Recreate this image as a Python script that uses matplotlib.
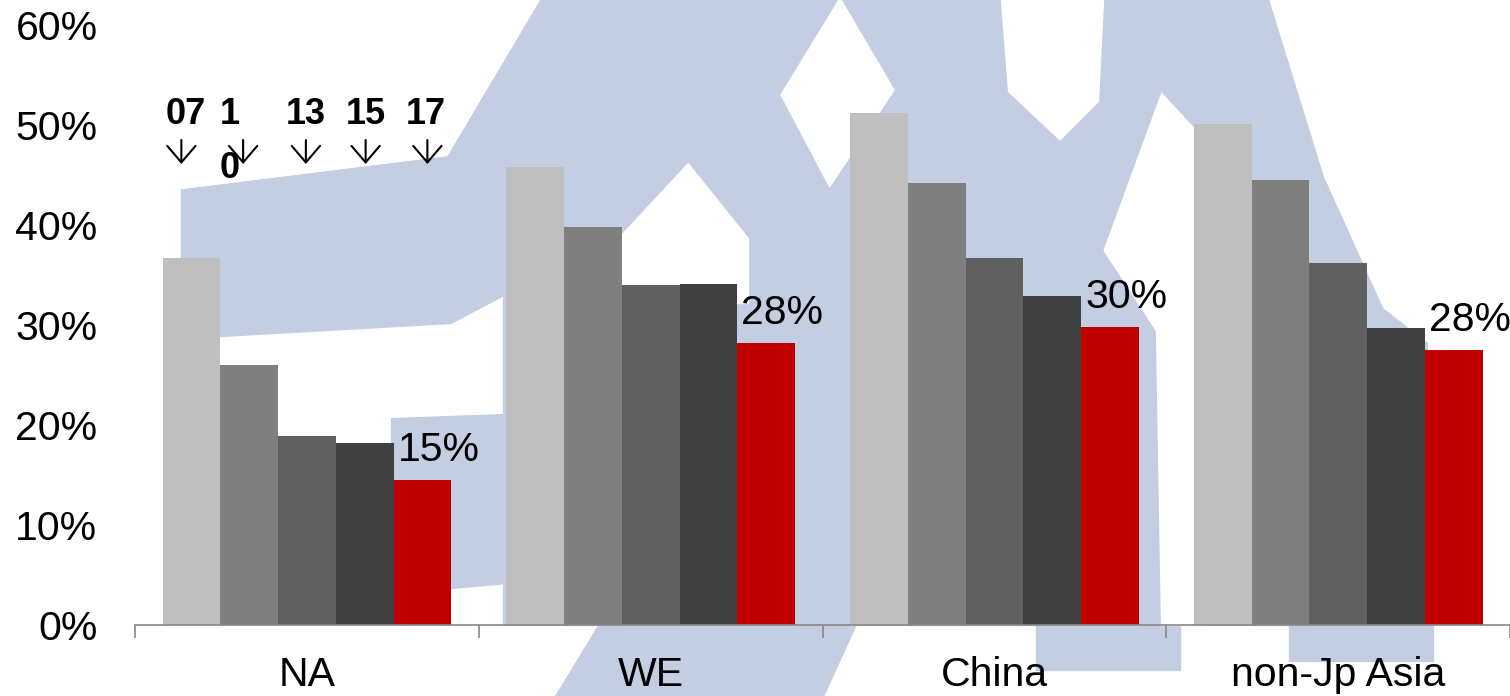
import matplotlib.pyplot as plt
import numpy as np
from matplotlib.patches import Polygon

plt.rcParams['font.family'] = ['Liberation Sans', 'DejaVu Sans']

# data
regions = ['NA', 'WE', 'China', 'non-Jp Asia']
years = ['07', '1\n0', '13', '15', '17']
shares = {
    '07': [36.7, 45.8, 51.2, 50.1],
    '10': [26.0, 39.8, 44.2, 44.5],
    '13': [18.9, 34.0, 36.7, 36.2],
    '15': [18.2, 34.1, 32.9, 29.7],
    '17': [14.5, 28.2, 29.8, 27.5],
}
last_labels = ['15%', '28%', '30%', '28%']
colors = ['#BFBFBF', '#7F7F7F', '#606060', '#404040', '#C00000']

fig = plt.figure(figsize=(15.1, 6.96), dpi=100)

# faint watermark behind the chart (pixel coords, y down)
bg = fig.add_axes([0, 0, 1, 1], zorder=0)
bg.set_xlim(0, 1510)
bg.set_ylim(696, 0)
bg.axis('off')
blue = '#C3CEE3'
blue_shapes = [
    [(185, 193), (450, 160), (545, 0), (1265, 0), (1320, 178), (1380, 311),
     (1424, 345), (1424, 622), (507, 622), (507, 290), (450, 320), (185, 335)],
    [(395, 422), (507, 418), (507, 580), (395, 590)],
    [(600, 630), (850, 630), (820, 696), (560, 696)],
    [(1040, 627), (1177, 627), (1177, 667), (1040, 667)],
    [(1293, 627), (1430, 627), (1430, 658), (1293, 658)],
]
white_shapes = [
    [(840, 5), (890, 90), (830, 180), (785, 95)],
    [(1005, 0), (1100, 0), (1095, 100), (1060, 135), (1012, 90)],
    [(688, 169), (745, 240), (745, 300), (622, 300), (622, 240)],
    [(1163, 100), (1200, 140), (1200, 622), (1165, 622), (1160, 330), (1108, 250)],
]
for pts in blue_shapes:
    bg.add_patch(Polygon(pts, closed=True, fc=blue, ec=blue, lw=6))
for pts in white_shapes:
    bg.add_patch(Polygon(pts, closed=True, fc='white', ec='white', lw=6))

ax = fig.add_axes([135 / 1510, 71 / 696, 1375 / 1510, 600 / 696], zorder=1)
ax.patch.set_alpha(0)

x = np.arange(len(regions))
w = 0.168
keys = list(shares.keys())
for i, k in enumerate(keys):
    ax.bar(x + (i - 2) * w, shares[k], w, color=colors[i], zorder=2)

# value labels on the 2017 bars
for j, lab in enumerate(last_labels):
    ax.annotate(lab, (x[j] + 2 * w - w / 2, shares['17'][j]), xytext=(3, 8),
                textcoords='offset points', ha='left', va='bottom', fontsize=29.5)

# year markers over the NA group
px = 1375 / 4  # pixels per category
text_shift = [-6, -19, -1, 1, 3]
arrow_shift = [-10, -6, -1, 1, 5]
for i, yr in enumerate(years):
    xi = x[0] + (i - 2) * w
    ax.text(xi + text_shift[i] / px, 52.8, yr, ha='center', va='top', fontsize=26,
            fontweight='bold', linespacing=1.7, zorder=3)
    xa = xi + arrow_shift[i] / px
    ax.annotate('', xy=(xa, 46.1), xytext=(xa, 48.5),
                arrowprops=dict(arrowstyle='->,head_width=0.3,head_length=0.35',
                                lw=1.5, color='black',
                                mutation_scale=34, shrinkA=0, shrinkB=0),
                zorder=4)

ax.set_xlim(-0.5, 3.5)
ax.set_ylim(0, 60)
ax.set_yticks(np.arange(0, 61, 10))
ax.set_yticklabels([f'{v}%' for v in range(0, 61, 10)])
ax.tick_params(axis='y', length=0, pad=27, labelsize=29.5)

ax.set_xticks(np.arange(-0.5, 4, 1))
ax.set_xticklabels([])
ax.set_xticks(x, minor=True)
ax.set_xticklabels(regions, minor=True)
ax.tick_params(axis='x', which='major', direction='out', length=9, width=1.2, color='#888888')
ax.tick_params(axis='x', which='minor', length=0, pad=22, labelsize=29.5)

for s in ['top', 'right', 'left']:
    ax.spines[s].set_visible(False)
ax.spines['bottom'].set_color('#888888')
ax.spines['bottom'].set_linewidth(1.2)
ax.spines['bottom'].set_zorder(3)

fig.savefig('out.png', dpi=100)
